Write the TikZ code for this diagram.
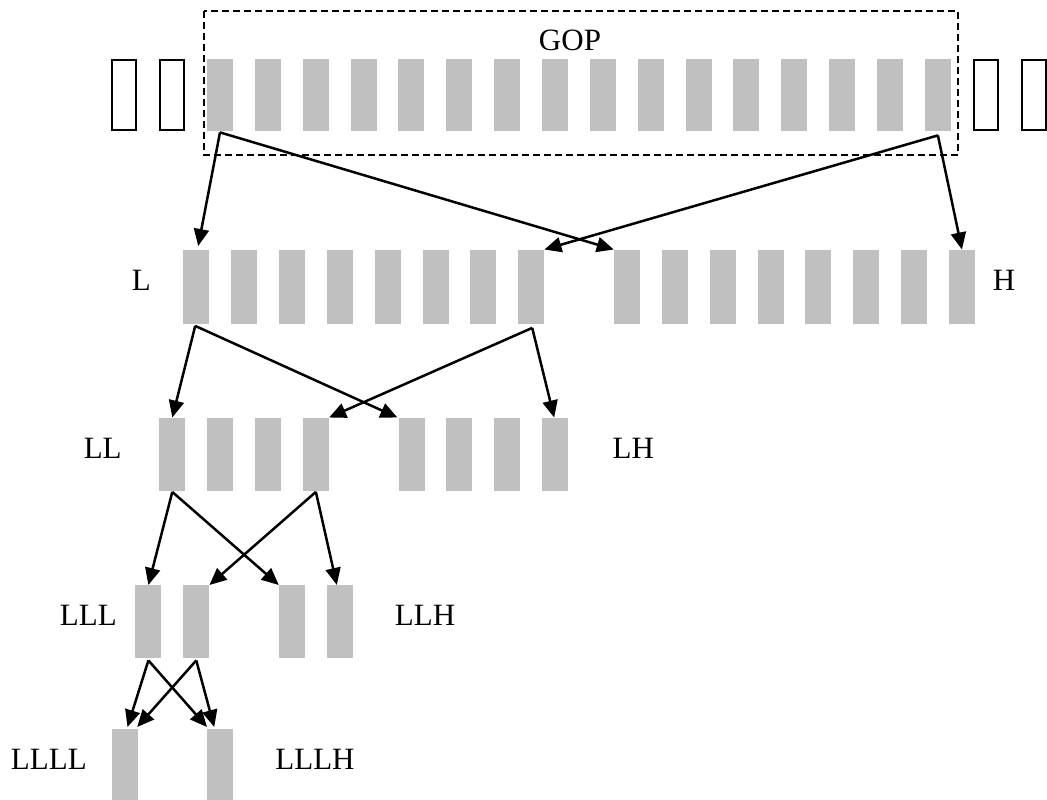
\documentclass[tikz,border=0pt]{standalone}
\usepackage{fontspec}
\setmainfont{Liberation Serif}
\usetikzlibrary{arrows.meta}
\definecolor{framegray}{RGB}{192,192,192}
\tikzset{
  frame/.style={fill=framegray, draw=none, inner sep=0pt, minimum width=26pt, minimum height=73pt, anchor=north west},
  emptyframe/.style={draw=black, line width=2pt, fill=none, inner sep=0pt, minimum width=24pt, minimum height=70pt},
  lbl/.style={anchor=base, inner sep=0pt, font=\fontsize{31}{31}\selectfont},
  arr/.style={line width=2.5pt, -{Triangle[length=17pt,width=15pt]}},
  gopbox/.style={draw=black, line width=1.5pt, dash pattern=on 7pt off 4pt}
}
\begin{document}
\begin{tikzpicture}[x=1pt,y=-1pt]
\useasboundingbox (0,0) rectangle (1047,800);
\def\p{47.86}
% top row
\foreach \i in {0,...,15} {
  \node[frame, minimum height=72pt] (t\i) at ({206.8+\i*\p},59) {};
}
\node[emptyframe] (e0) at (124.2,95) {};
\node[emptyframe] (e1) at (171.9,95) {};
\node[emptyframe] (e2) at (985.8,95) {};
\node[emptyframe] (e3) at (1033.5,95) {};
\draw[gopbox] (204,11) rectangle (958,155);
\node[lbl] (gop) at (570,51) {GOP};
% L / H row
\foreach \i in {0,...,7} {
  \node[frame, minimum height=73.5pt] (l\i) at ({183+\i*\p},250) {};
  \node[frame, minimum height=73.5pt] (h\i) at ({183+(\i+9)*\p},250) {};
}
\node[lbl] (labL) at (141.3,290) {L};
\node[lbl] (labH) at (1004,290) {H};
% LL / LH row
\foreach \i in {0,...,3} {
  \node[frame] (ll\i) at ({159.1+\i*\p},417.5) {};
  \node[frame] (lh\i) at ({159.1+(\i+5)*\p},417.5) {};
}
\node[lbl] (labLL) at (102.7,458) {LL};
\node[lbl] (labLH) at (633.3,458) {LH};
% LLL / LLH row
\foreach \i in {0,1} {
  \node[frame] (lll\i) at ({135.2+\i*\p},585) {};
  \node[frame] (llh\i) at ({135.2+(\i+3)*\p},585) {};
}
\node[lbl] (labLLL) at (88.3,625) {LLL};
\node[lbl] (labLLH) at (425,625) {LLH};
% LLLL / LLLH row
\node[frame] (llll0) at (111.3,729) {};
\node[frame] (lllh0) at ({111.3+2*\p},729) {};
\node[lbl] (labLLLL) at (48.8,769.3) {LLLL};
\node[lbl] (labLLLH) at (315,769.3) {LLLH};
% arrows GOP -> L/H
\draw[arr] ([yshift=-1pt]t0.south) -- ([xshift=2pt,yshift=4pt]l0.north);
\draw[arr] ([yshift=-1pt]t0.south) -- ([yshift=0.5pt]h0.north west);
\draw[arr] ([yshift=-4pt]t15.south) -- ([yshift=0.5pt]l7.north east);
\draw[arr] ([yshift=-4pt]t15.south) -- ([yshift=0.5pt]h7.north);
% L -> LL/LH
\draw[arr] ([xshift=-1pt,yshift=-2pt]l0.south) -- (ll0.north);
\draw[arr] ([xshift=-1pt,yshift=-2pt]l0.south) -- ([xshift=-1pt]lh0.north west);
\draw[arr] ([xshift=1pt,yshift=-4pt]l7.south) -- (ll3.north east);
\draw[arr] ([xshift=1pt,yshift=-4pt]l7.south) -- ([xshift=-1pt]lh3.north);
% LL -> LLL/LLH
\draw[arr] ([yshift=-1pt]ll0.south) -- (lll0.north);
\draw[arr] ([yshift=-1pt]ll0.south) -- (llh0.north west);
\draw[arr] ([yshift=-1pt]ll3.south) -- (lll1.north east);
\draw[arr] ([yshift=-1pt]ll3.south) -- ([xshift=-3pt]llh1.north);
% LLL -> LLLL/LLLH
\draw[arr] ([yshift=-2pt]lll0.south) -- ([xshift=3pt,yshift=2pt]llll0.north);
\draw[arr] ([yshift=-2pt]lll0.south) -- ([yshift=2pt]lllh0.north west);
\draw[arr] ([yshift=-2pt]lll1.south) -- ([xshift=-0.5pt,yshift=2pt]llll0.north east);
\draw[arr] ([yshift=-2pt]lll1.south) -- ([xshift=-6pt,yshift=2pt]lllh0.north);
\end{tikzpicture}
\end{document}
